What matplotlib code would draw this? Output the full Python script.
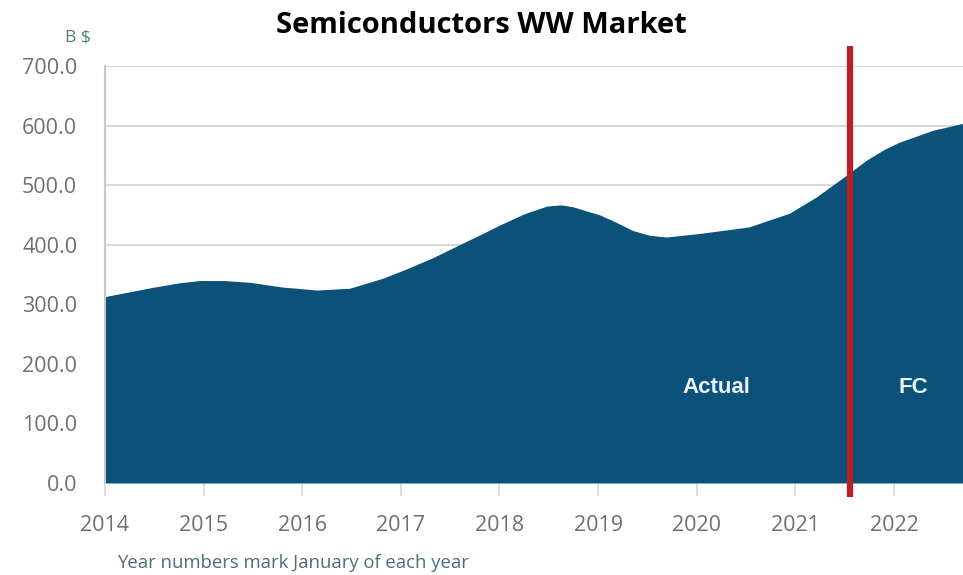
import matplotlib
matplotlib.use("Agg")
import matplotlib.pyplot as plt

# Data (year as decimal, value in B$)
years = [2014.0, 2014.25, 2014.5, 2014.75, 2014.96, 2015.2, 2015.47, 2015.8, 2016.15,
         2016.48, 2016.82, 2017.05, 2017.32, 2017.58, 2017.83, 2018.0, 2018.25,
         2018.48, 2018.62, 2018.74, 2019.02, 2019.18, 2019.35, 2019.52, 2019.69,
         2020.03, 2020.53, 2020.94, 2021.21, 2021.52, 2021.72, 2021.9, 2022.05,
         2022.39, 2022.7]
values = [313, 321, 329, 336, 340, 340, 337, 329, 324,
          327, 344, 359, 378, 399, 419, 433, 452,
          465, 467, 464, 450, 438, 424, 416, 413,
          419, 430, 453, 480, 517, 542, 560, 572,
          592, 604]
year_ticks = [2014, 2015, 2016, 2017, 2018, 2019, 2020, 2021, 2022]
y_ticks = [0, 100, 200, 300, 400, 500, 600, 700]
split_year = 2021.55

plt.rcParams['font.family'] = ['Open Sans', 'DejaVu Sans']

fig = plt.figure(figsize=(9.63, 5.75), dpi=100)
ax = fig.add_axes([0.109, 0.16, 0.891, 0.725])

ax.fill_between(years, values, 0, color='#0c5179', lw=0, zorder=2)
ax.set_xlim(2014, 2022.7)
ax.set_ylim(0, 700)

ax.set_yticks(y_ticks)
ax.set_yticklabels([f"{v:.1f}" for v in y_ticks], fontsize=15.5, color='#707070')
ax.set_xticks(year_ticks)
ax.set_xticklabels([str(y) for y in year_ticks], fontsize=15.5, color='#707070')
ax.tick_params(axis='y', length=0, pad=20)
ax.tick_params(axis='x', length=9, color='#d8d8d8', width=1.2, pad=14)

ax.grid(axis='y', color='#d9d9d9', lw=1.5, zorder=0)
ax.set_axisbelow(True)
for s in ['top', 'right', 'bottom']:
    ax.spines[s].set_visible(False)
ax.spines['left'].set_color('#c8c8c8')
ax.spines['left'].set_linewidth(1.5)

ax.plot([split_year, split_year], [-23, 733], color='#b52127', lw=4.5,
        clip_on=False, zorder=5, solid_capstyle='butt')

ax.text(2020.2, 160, 'Actual', color='#e8f4f8', fontsize=16, fontweight='bold',
        ha='center', va='center', family=['Liberation Sans', 'DejaVu Sans'], zorder=6)
ax.text(2022.2, 160, 'FC', color='#e8f4f8', fontsize=16, fontweight='bold',
        ha='center', va='center', family=['Liberation Sans', 'DejaVu Sans'], zorder=6)

fig.text(0.5, 0.955, 'Semiconductors WW Market', ha='center', va='center',
         fontsize=21, fontweight='bold', color='black')
fig.text(0.081, 0.935, 'B $', ha='center', va='center', fontsize=12.5, color='#4d8080')
fig.text(0.122, 0.02, 'Year numbers mark January of each year', ha='left', va='center',
         fontsize=13.3, color='#4a6f78')

fig.savefig('out.png', dpi=100)
